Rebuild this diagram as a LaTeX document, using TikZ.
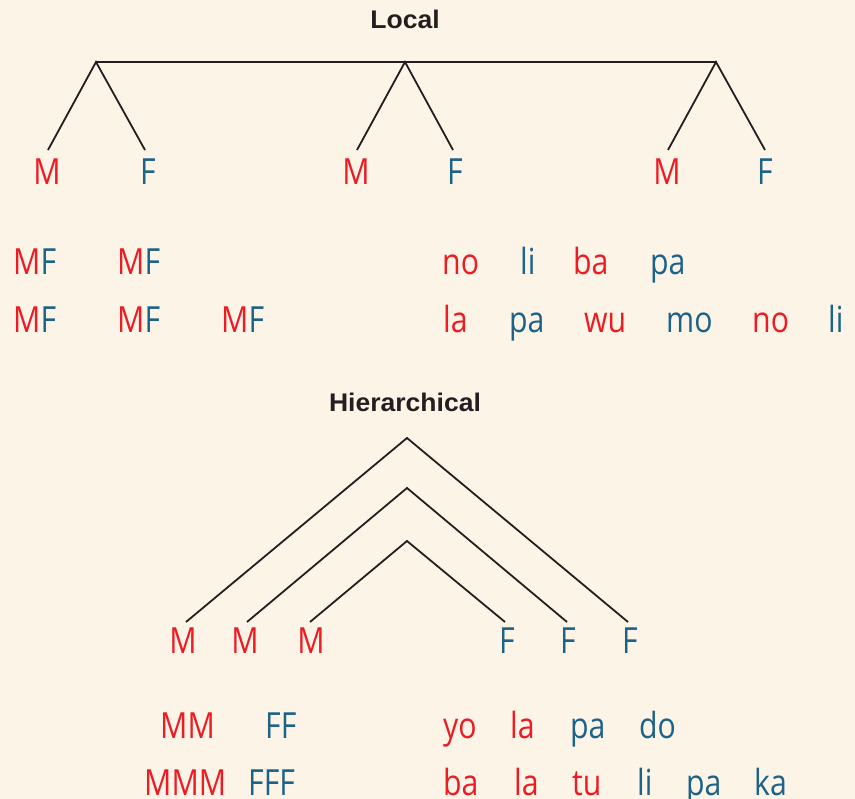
\documentclass[tikz,border=0pt]{standalone}
\usepackage{fontspec}
\setmainfont{Open Sans}[FakeStretch=0.84]
\newfontfamily\titlefont{Liberation Sans}[FakeStretch=1.04]
\definecolor{bg}{HTML}{FDF4E8}
\definecolor{mred}{HTML}{ED1C24}
\definecolor{fblue}{HTML}{1D6388}
\definecolor{ink}{HTML}{231F20}
\begin{document}
\begin{tikzpicture}[x=1pt,y=-1pt,
  txt/.style={inner sep=0pt,font=\fontsize{36}{40}\selectfont},
  mtext/.style={txt,text=mred},
  ftext/.style={txt,text=fblue},
  ttl/.style={inner sep=0pt,anchor=base,text=ink,font=\titlefont\bfseries\fontsize{25.5}{28}\selectfont},
  branch/.style={draw=ink,line width=1.8pt},
  lw/.style={anchor=base west}]
\fill[bg] (0,0) rectangle (855,799);
\useasboundingbox (0,0) rectangle (855,799);

% ---------- Local ----------
\node[ttl] (tlocal) at (405,29) {Local};
\coordinate (a1) at (96,62);
\coordinate (a2) at (405,62);
\coordinate (a3) at (716,62);
\draw[branch] (a1) -- (a2) -- (a3);
\coordinate (l1m) at (48,150); \coordinate (l1f) at (145,150);
\coordinate (l2m) at (357,150); \coordinate (l2f) at (453,150);
\coordinate (l3m) at (668,150); \coordinate (l3f) at (765,150);
\draw[branch] (l1m) -- (a1) -- (l1f);
\draw[branch] (l2m) -- (a2) -- (l2f);
\draw[branch] (l3m) -- (a3) -- (l3f);
\node[mtext,anchor=base] (m1) at (47,185) {M};
\node[ftext,anchor=base] (f1) at (148,185) {F};
\node[mtext,anchor=base] (m2) at (356,185) {M};
\node[ftext,anchor=base] (f2) at (455,185) {F};
\node[mtext,anchor=base] (m3) at (667,185) {M};
\node[ftext,anchor=base] (f3) at (765,185) {F};

\node[txt,lw] (r1a) at (13,275) {\color{mred}M\color{fblue}F};
\node[txt,lw] (r1b) at (117,275) {\color{mred}M\color{fblue}F};
\node[txt,lw] (r2a) at (13,333) {\color{mred}M\color{fblue}F};
\node[txt,lw] (r2b) at (117,333) {\color{mred}M\color{fblue}F};
\node[txt,lw] (r2c) at (221,333) {\color{mred}M\color{fblue}F};

\node[mtext,lw] (w1) at (442,275) {no};
\node[ftext,lw] (w2) at (520,275) {li};
\node[mtext,lw] (w3) at (573,275) {ba};
\node[ftext,lw] (w4) at (650,275) {pa};

\node[mtext,lw] (v1) at (443,333) {la};
\node[ftext,lw] (v2) at (509,333) {pa};
\node[mtext,lw] (v3) at (584,333) {wu};
\node[ftext,lw] (v4) at (666,333) {mo};
\node[mtext,lw] (v5) at (752,333) {no};
\node[ftext,lw] (v6) at (828,333) {li};

% ---------- Hierarchical ----------
\node[ttl] (thier) at (405,412) {Hierarchical};
\coordinate (h1) at (407,438);
\coordinate (h2) at (407,488);
\coordinate (h3) at (407,541);
\coordinate (h1l) at (186,622); \coordinate (h1r) at (628,622);
\coordinate (h2l) at (247,622); \coordinate (h2r) at (567,622);
\coordinate (h3l) at (310,622); \coordinate (h3r) at (505,622);
\draw[branch] (h1l) -- (h1) -- (h1r);
\draw[branch] (h2l) -- (h2) -- (h2r);
\draw[branch] (h3l) -- (h3) -- (h3r);
\node[mtext,anchor=base] (hm1) at (183,653) {M};
\node[mtext,anchor=base] (hm2) at (245,653) {M};
\node[mtext,anchor=base] (hm3) at (311,653) {M};
\node[ftext,anchor=base] (hf1) at (507,653) {F};
\node[ftext,anchor=base] (hf2) at (568,653) {F};
\node[ftext,anchor=base] (hf3) at (630,653) {F};

\node[mtext,lw] (b1) at (160,738) {MM};
\node[ftext,lw] (b2) at (265,738) {FF};
\node[mtext,lw] (b3) at (144,795) {MMM};
\node[ftext,lw] (b4) at (248,795) {FFF};

\node[mtext,lw] (y1) at (443,738) {yo};
\node[mtext,lw] (y2) at (510,738) {la};
\node[ftext,lw] (y3) at (570,738) {pa};
\node[ftext,lw] (y4) at (639,738) {do};

\node[mtext,lw] (z1) at (443,795) {ba};
\node[mtext,lw] (z2) at (514,795) {la};
\node[mtext,lw] (z3) at (572,795) {tu};
\node[ftext,lw] (z4) at (637,795) {li};
\node[ftext,lw] (z5) at (686,795) {pa};
\node[ftext,lw] (z6) at (754,795) {ka};
\end{tikzpicture}
\end{document}
